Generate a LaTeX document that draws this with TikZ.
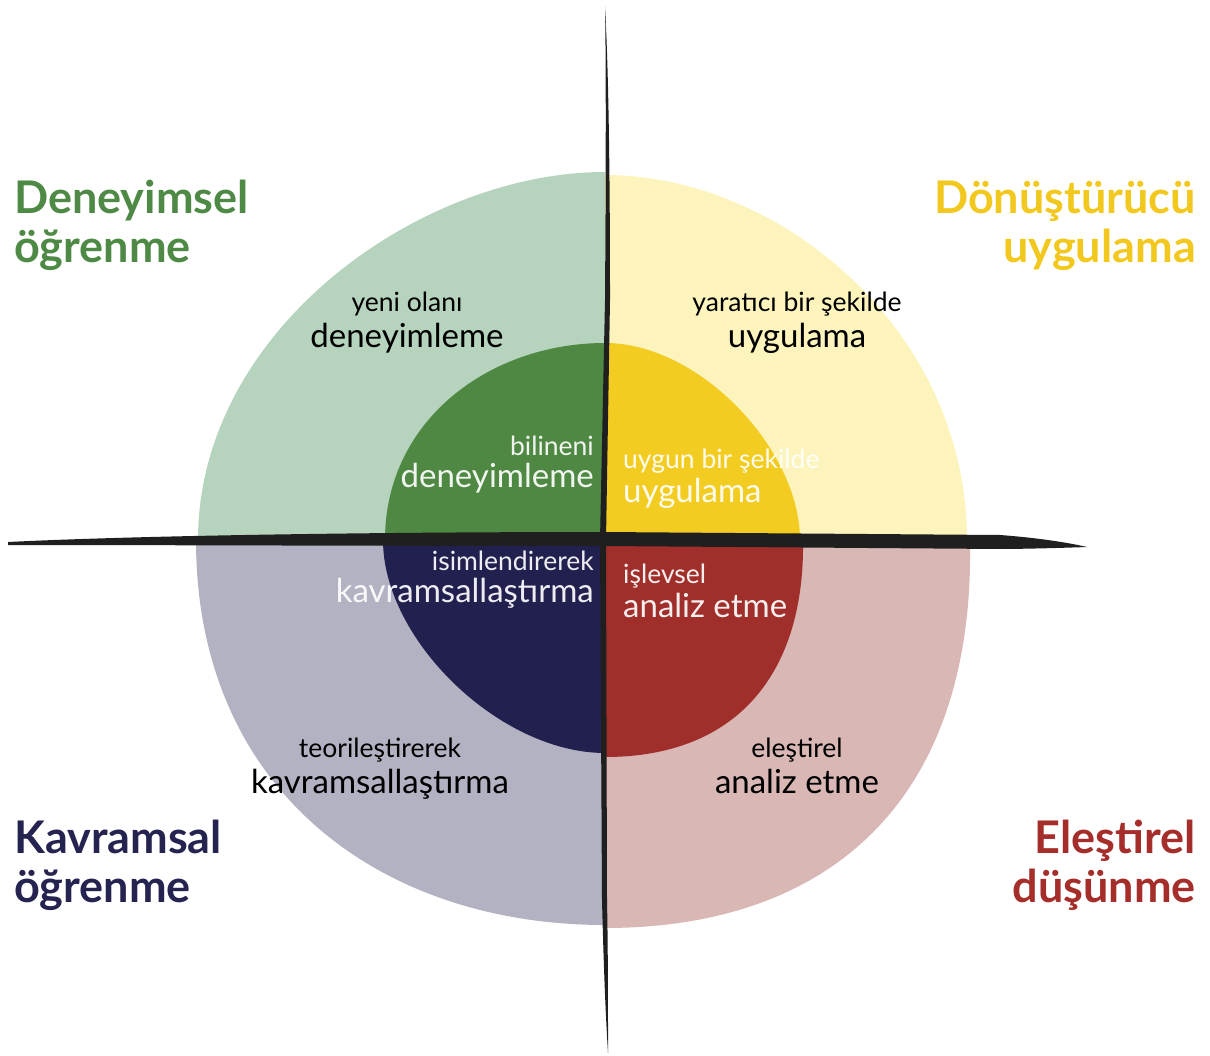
\documentclass[tikz,border=0pt]{standalone}
\usepackage{fontspec}
\setmainfont{Lato}
\usepackage{tikz}
\usetikzlibrary{backgrounds}
\definecolor{greenlight}{HTML}{B6D3BD}
\definecolor{greendark}{HTML}{4F8843}
\definecolor{yellowlight}{HTML}{FCF4BC}
\definecolor{yellowdark}{HTML}{F3CC22}
\definecolor{navylight}{HTML}{B2B2C2}
\definecolor{navydark}{HTML}{22204F}
\definecolor{redlight}{HTML}{D8B7B4}
\definecolor{reddark}{HTML}{A02E2A}
\definecolor{greentitle}{HTML}{4E8A45}
\definecolor{yellowtitle}{HTML}{F2C81E}
\definecolor{navytitle}{HTML}{25234F}
\definecolor{redtitle}{HTML}{A52E2A}
\newcommand{\axiscolor}{black!88}
\newcommand{\smallsize}{\fontsize{26.5}{30}\selectfont}
\newcommand{\bigsize}{\fontsize{33}{38}\selectfont}
\newcommand{\titlesize}{\fontsize{45}{52}\selectfont\bfseries}
\tikzset{
  smalltext/.style={inner sep=0pt, font=\smallsize},
  bigtext/.style={inner sep=0pt, font=\bigsize},
  titletext/.style={inner sep=0pt, font=\titlesize},
  innertext/.style={text=white, text opacity=0.92}
}

\begin{document}
\begin{tikzpicture}[x=1pt, y=-1pt]
\useasboundingbox (0,0) rectangle (1210,1056);
%outer
\begin{scope}[on background layer]
\fill[greenlight] (605,540) -- (198,540) .. controls (198,330) and (420,172) .. (605,172) -- cycle;
\fill[yellowlight] (605,540) -- (605,175) .. controls (780,175) and (967,330) .. (967,540) -- cycle;
\fill[navylight] (605,540) -- (196,540) .. controls (196,790) and (380,925) .. (605,925) -- cycle;
\fill[redlight] (605,540) -- (970,540) .. controls (975,800) and (830,928) .. (605,928) -- cycle;
\end{scope}
%inner
\fill[greendark] (605,540) -- (385,540) .. controls (385,420) and (490,343) .. (605,343) -- cycle;
\fill[yellowdark] (605,540) -- (605,343) .. controls (700,343) and (800,450) .. (800,540) -- cycle;
\fill[navydark] (605,540) -- (383,540) .. controls (383,640) and (500,753) .. (605,753) -- cycle;
\fill[reddark] (605,540) -- (803,540) .. controls (805,670) and (740,757) .. (605,757) -- cycle;
%axes
\fill[\axiscolor] (8,542) .. controls (150,535) and (400,532) .. (603,532) -- (1000,535) .. controls (1040,538) and (1070,543) .. (1087,547) .. controls (1060,548) and (1020,549) .. (1000,549) -- (603,546) .. controls (400,546) and (150,545) .. (8,545) -- cycle;
\fill[\axiscolor] (605,7) .. controls (606,60) and (606,150) .. (605,300) -- (600,540) -- (602,900) .. controls (604,980) and (606,1020) .. (608,1053) .. controls (608,1000) and (608,950) .. (607,900) -- (606,540) -- (610,300) .. controls (610,150) and (608,60) .. (605,7) -- cycle;
%titles
\node[titletext, text=greentitle, anchor=base west] (t1) at (14,214) {Deneyimsel};
\node[titletext, text=greentitle, anchor=base west] (t2) at (14,263) {öğrenme};
\node[titletext, text=yellowtitle, anchor=base east] (t3) at (1196,214) {Dönüştürücü};
\node[titletext, text=yellowtitle, anchor=base east] (t4) at (1196,263) {uygulama};
\node[titletext, text=navytitle, anchor=base west] (t5) at (14,853) {Kavramsal};
\node[titletext, text=navytitle, anchor=base west] (t6) at (14,902) {öğrenme};
\node[titletext, text=redtitle, anchor=base east] (t7) at (1196,853) {Eleştirel};
\node[titletext, text=redtitle, anchor=base east] (t8) at (1196,902) {düşünme};
%outer labels
\node[smalltext, anchor=base] (o1) at (407,312) {yeni olanı};
\node[bigtext, anchor=base] (o2) at (407,348) {deneyimleme};
\node[smalltext, anchor=base] (o3) at (797,312) {yaratıcı bir şekilde};
\node[bigtext, anchor=base] (o4) at (797,348) {uygulama};
\node[smalltext, anchor=base] (o5) at (380,757) {teorileştirerek};
\node[bigtext, anchor=base] (o6) at (380,793) {kavramsallaştırma};
\node[smalltext, anchor=base] (o7) at (797,757) {eleştirel};
\node[bigtext, anchor=base] (o8) at (797,793) {analiz etme};
%inner labels
\node[smalltext, innertext, anchor=base east] (i1) at (594,455) {bilineni};
\node[bigtext, innertext, anchor=base east] (i2) at (594,487) {deneyimleme};
\node[smalltext, innertext, anchor=base west] (i3) at (623,468) {uygun bir şekilde};
\node[bigtext, innertext, anchor=base west] (i4) at (623,502) {uygulama};
\node[smalltext, innertext, anchor=base east] (i5) at (594,570) {isimlendirerek};
\node[bigtext, innertext, anchor=base east] (i6) at (594,602) {kavramsallaştırma};
\node[smalltext, innertext, anchor=base west] (i7) at (623,583) {işlevsel};
\node[bigtext, innertext, anchor=base west] (i8) at (623,617) {analiz etme};
\end{tikzpicture}
\end{document}
